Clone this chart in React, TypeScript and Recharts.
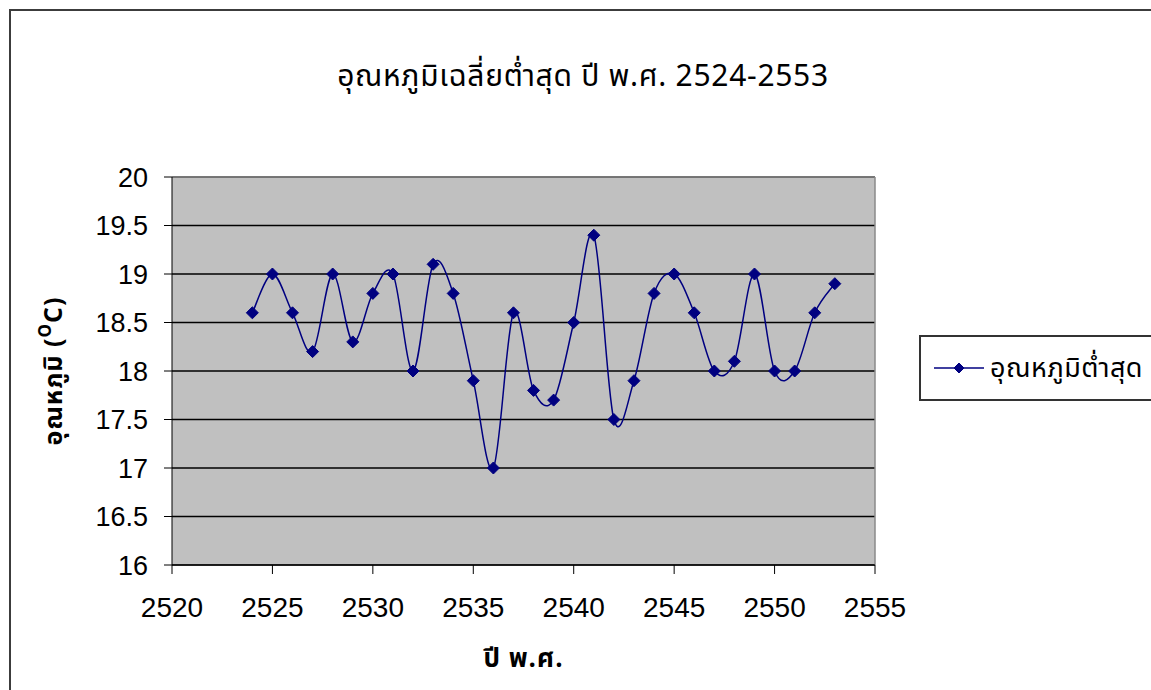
import React from "react"
import {
  LineChart,
  Line,
  XAxis,
  YAxis,
  CartesianGrid,
  ReferenceLine,
  Label,
} from "recharts"

// ปี พ.ศ. 2524-2553, mean minimum temperature (°C)
const years = [
  2524, 2525, 2526, 2527, 2528, 2529, 2530, 2531, 2532, 2533,
  2534, 2535, 2536, 2537, 2538, 2539, 2540, 2541, 2542, 2543,
  2544, 2545, 2546, 2547, 2548, 2549, 2550, 2551, 2552, 2553,
]
const minTemps = [
  18.6, 19.0, 18.6, 18.2, 19.0, 18.3, 18.8, 19.0, 18.0, 19.1,
  18.8, 17.9, 17.0, 18.6, 17.8, 17.7, 18.5, 19.4, 17.5, 17.9,
  18.8, 19.0, 18.6, 18.0, 18.1, 19.0, 18.0, 18.0, 18.6, 18.9,
]
const xTicks = [2520, 2525, 2530, 2535, 2540, 2545, 2550, 2555]
const yTicks = [16, 16.5, 17, 17.5, 18, 18.5, 19, 19.5, 20]

const seriesName = "อุณหภูมิต่ำสุด"
const titleText = "อุณหภูมิเฉลี่ยต่ำสุด ปี พ.ศ. 2524-2553"

const data = years.map((year, i) => ({ year, temp: minTemps[i] }))

const THAI_FONT = "Tahoma, 'Noto Sans Thai', 'Noto Sans', 'DejaVu Sans', sans-serif"
const NUM_FONT = "'Liberation Sans', Arial, sans-serif"
const NAVY = "#000080"

// Catmull-Rom style smoothing (control points at 1/6 of the neighbour span)
const smoothCurve = (context: any) => {
  let pts: number[][] = []
  return {
    areaStart() {},
    areaEnd() {},
    lineStart() {
      pts = []
    },
    point(x: number, y: number) {
      pts.push([+x, +y])
    },
    lineEnd() {
      if (!pts.length) return
      context.moveTo(pts[0][0], pts[0][1])
      for (let i = 0; i < pts.length - 1; i++) {
        const p0 = pts[i - 1] || pts[i]
        const p1 = pts[i]
        const p2 = pts[i + 1]
        const p3 = pts[i + 2] || p2
        context.bezierCurveTo(
          p1[0] + (p2[0] - p0[0]) / 6,
          p1[1] + (p2[1] - p0[1]) / 6,
          p2[0] - (p3[0] - p1[0]) / 6,
          p2[1] - (p3[1] - p1[1]) / 6,
          p2[0],
          p2[1]
        )
      }
    },
  }
}

const Diamond = ({ cx, cy, r = 6 }: any) => {
  if (cx == null || cy == null) return null
  return (
    <polygon
      points={`${cx},${cy - r} ${cx + r},${cy} ${cx},${cy + r} ${cx - r},${cy}`}
      fill={NAVY}
      stroke={NAVY}
    />
  )
}

const LegendBox = () => (
  <div
    style={{
      position: "absolute",
      left: 919,
      top: 335,
      width: 300,
      height: 66,
      border: "2px solid #333",
      background: "#fff",
      display: "flex",
      alignItems: "center",
      boxSizing: "border-box",
    }}
  >
    <svg width={56} height={20} style={{ marginLeft: 11 }}>
      <line x1={2} y1={10} x2={52} y2={10} stroke={NAVY} strokeWidth={1.5} />
      <Diamond cx={27} cy={10} r={5} />
    </svg>
    <span
      style={{
        fontFamily: THAI_FONT,
        fontSize: 27,
        letterSpacing: 0.5,
        color: "#000",
        marginLeft: 2,
        whiteSpace: "nowrap",
      }}
    >
      {seriesName}
    </span>
  </div>
)

const YTitle = ({ viewBox }: any) => {
  const cy = viewBox.y + viewBox.height / 2
  return (
    <text
      x={0}
      y={0}
      transform={`translate(62, ${cy}) rotate(-90)`}
      textAnchor="middle"
      fontFamily={THAI_FONT}
      fontSize={25}
      letterSpacing={1}
      fontWeight="bold"
      fill="#000"
    >
      อุณหภูมิ (
      <tspan fontSize={17} dy={-11}>O</tspan>
      <tspan dy={11}>C)</tspan>
    </text>
  )
}

export default function App() {
  return (
    <div
      style={{
        position: "fixed",
        left: 0,
        top: 0,
        width: 1151,
        height: 690,
        overflow: "hidden",
        background: "#fff",
      }}
    >
      <div
        style={{
          position: "absolute",
          left: 9,
          top: 9,
          width: 1300,
          height: 900,
          border: "2px solid #3c3c3c",
        }}
      />
      <div
        style={{
          position: "absolute",
          left: 0,
          top: 54,
          width: 1166,
          textAlign: "center",
          fontFamily: THAI_FONT,
          fontSize: 30,
          letterSpacing: 0.7,
          color: "#000",
        }}
      >
        {titleText}
      </div>
      <div style={{ position: "absolute", left: 0, top: 0 }}>
        <LineChart
          width={1151}
          height={690}
          data={data}
          margin={{ top: 177, right: 276, left: 102, bottom: 85 }}
        >
          <CartesianGrid
            vertical={false}
            fill="#c0c0c0"
            stroke="#000"
            strokeWidth={1.5}
            horizontalValues={yTicks}
          />
          <ReferenceLine y={20} stroke="#8a8a8a" strokeWidth={1.5} />
          <ReferenceLine x={2555} stroke="#8a8a8a" strokeWidth={1.5} />
          <XAxis
            dataKey="year"
            type="number"
            domain={[2520, 2555]}
            ticks={xTicks}
            height={40}
            stroke="#000"
            tickSize={9}
            tickMargin={23}
            tick={{ fontFamily: NUM_FONT, fontSize: 28, fill: "#000" }}
          >
            <Label
              value="ปี พ.ศ."
              position="insideBottom"
              offset={-62}
              fontFamily={THAI_FONT}
              fontSize={26}
              letterSpacing={1}
              fontWeight="bold"
              fill="#000"
            />
          </XAxis>
          <YAxis
            type="number"
            domain={[16, 20]}
            ticks={yTicks}
            width={70}
            stroke="#000"
            tickSize={8}
            tickMargin={16}
            tick={{ fontFamily: NUM_FONT, fontSize: 27, fill: "#000" }}
            label={<YTitle />}
          />
          <Line
            dataKey="temp"
            name={seriesName}
            type={smoothCurve as any}
            stroke={NAVY}
            strokeWidth={1.5}
            dot={<Diamond r={6} />}
            activeDot={false}
            isAnimationActive={false}
          />
        </LineChart>
      </div>
      <LegendBox />
    </div>
  )
}
